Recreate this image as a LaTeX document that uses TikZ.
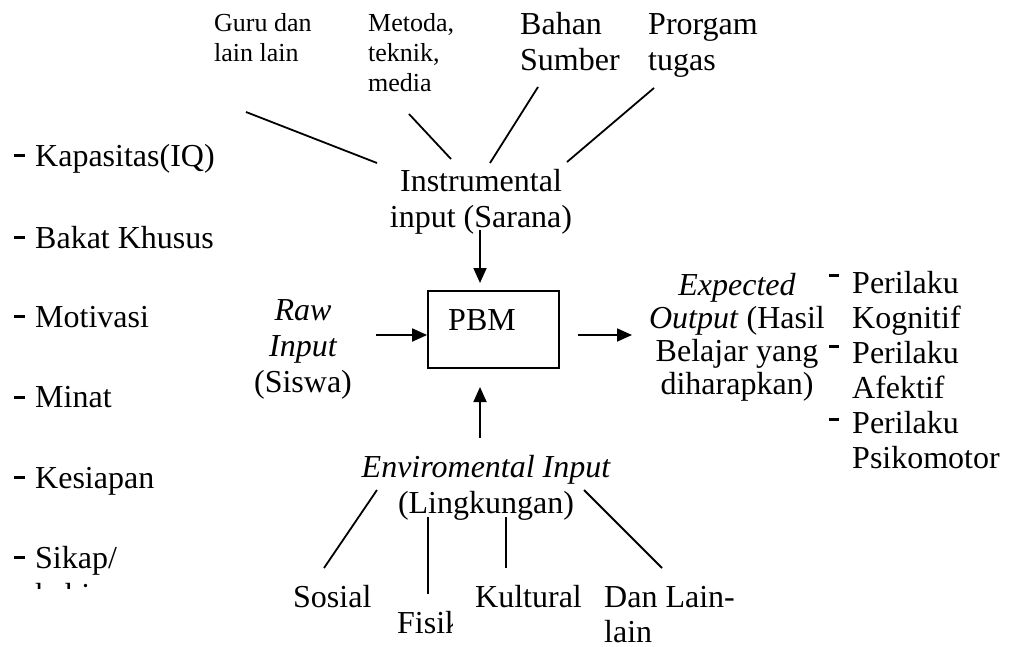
\documentclass[tikz,border=0pt]{standalone}
\usepackage{fontspec}
\setmainfont{Liberation Serif}
\usetikzlibrary{arrows.meta}
\tikzset{
  big/.style={inner sep=0pt, font=\fontsize{32}{36}\selectfont},
  small/.style={inner sep=0pt, font=\fontsize{26}{30}\selectfont},
  ln/.style={line width=1.8pt},
  arr/.style={line width=1.8pt, -{Triangle[length=15pt,width=13pt]}},
  dashmark/.style={fill=black},
}
\newcommand{\ml}[1]{\begin{tabular}[t]{@{}l@{}}#1\end{tabular}}
\newcommand{\mc}[1]{\begin{tabular}[t]{@{}c@{}}#1\end{tabular}}
\begin{document}
\begin{tikzpicture}[x=1pt,y=-1pt]
\useasboundingbox (0,0) rectangle (1009,647);
\fill[white] (0,0) rectangle (1009,647);

% top labels
\node[small, anchor=base west] (guru) at (214,32) {\ml{Guru dan\\lain lain}};
\node[small, anchor=base west] (metoda) at (368,32) {\ml{Metoda,\\teknik,\\media}};
\node[big, anchor=base west] (bahan) at (520,35) {\ml{Bahan\\Sumber}};
\node[big, anchor=base west] (prog) at (648,35) {\ml{Prorgam\\tugas}};

\coordinate (g1) at (246,112); \coordinate (g2) at (377,163);
\coordinate (m1) at (409,114); \coordinate (m2) at (451,159);
\coordinate (b1) at (538,87);  \coordinate (b2) at (490,163);
\coordinate (p1) at (654,88);  \coordinate (p2) at (567,162);
\draw[ln] (g1) -- (g2);
\draw[ln] (m1) -- (m2);
\draw[ln] (b1) -- (b2);
\draw[ln] (p1) -- (p2);

% instrumental
\node[big, anchor=base] (instr) at (481,192) {\mc{Instrumental\\input (Sarana)}};
\coordinate (i1) at (480,230); \coordinate (i2) at (480,283);
\draw[arr] (i1) -- (i2);

% PBM
\node[draw, line width=1.8pt, minimum width=131pt, minimum height=77pt, inner sep=0pt] (pbm) at (493.5,329.5) {};
\node[big, anchor=base] (pbmt) at (482,330) {PBM};

% raw input
\node[big, anchor=base] (raw) at (303,320) {\mc{\itshape Raw\\\itshape Input\\(Siswa)}};
\coordinate (r1) at (376,335);
\draw[arr] (r1) -- (pbm.west |- r1);

% expected output
\node[anchor=base, inner sep=0pt, font=\fontsize{32}{33}\selectfont] (exp) at (737,295) {\mc{\itshape Expected\\\textit{Output} (Hasil\\Belajar yang\\diharapkan)}};
\coordinate (o1) at (578,335); \coordinate (o2) at (632,335);
\draw[arr] (o1) -- (o2);

% right list
\node[anchor=base west, inner sep=0pt, font=\fontsize{32}{35}\selectfont] (rl) at (852,293) {\ml{Perilaku\\Kognitif\\Perilaku\\Afektif\\Perilaku\\Psikomotor}};
\foreach \yy in {275,346,419} { \fill[dashmark] (829,\yy-1.5) rectangle (839,\yy+1.5); }

% left list
\node[big, anchor=base west] (l1) at (35,167) {Kapasitas(IQ)};
\node[big, anchor=base west] (l2) at (35,248) {Bakat Khusus};
\node[big, anchor=base west] (l3) at (35,327) {Motivasi};
\node[big, anchor=base west] (l4) at (35,407) {Minat};
\node[big, anchor=base west] (l5) at (35,488) {Kesiapan};
\node[big, anchor=base west] (l6) at (35,568) {Sikap/};
\begin{scope}
\clip (0,570) rectangle (300,588);
\node[big, anchor=base west] (l6b) at (35,605) {kebiasaan};
\end{scope}
\foreach \yy in {156,237,316,397,477,557} { \fill[dashmark] (14,\yy-1.5) rectangle (25,\yy+1.5); }

% environmental
\coordinate (e1) at (480,438);
\draw[arr] (e1) -- (480,387);
\node[big, anchor=base] (env) at (486,477) {\mc{\itshape Enviromental Input\\(Lingkungan)}};

\coordinate (s1) at (377,490); \coordinate (s2) at (324,568);
\coordinate (f1) at (428,517); \coordinate (f2) at (428,594);
\coordinate (k1) at (506,517); \coordinate (k2) at (506,568);
\coordinate (d1) at (584,490); \coordinate (d2) at (662,568);
\draw[ln] (s1) -- (s2);
\draw[ln] (f1) -- (f2);
\draw[ln] (k1) -- (k2);
\draw[ln] (d1) -- (d2);

\node[big, anchor=base west] (sos) at (293,607) {Sosial};
\begin{scope}
\clip (380,600) rectangle (452,647);
\node[big, anchor=base west] (fis) at (397,633) {Fisik};
\end{scope}
\node[big, anchor=base west] (kul) at (475,607) {Kultural};
\node[big, anchor=base west] (dan) at (604,607) {Dan Lain-};
\node[big, anchor=base west] (dan2) at (604,642) {lain};
\end{tikzpicture}
\end{document}
